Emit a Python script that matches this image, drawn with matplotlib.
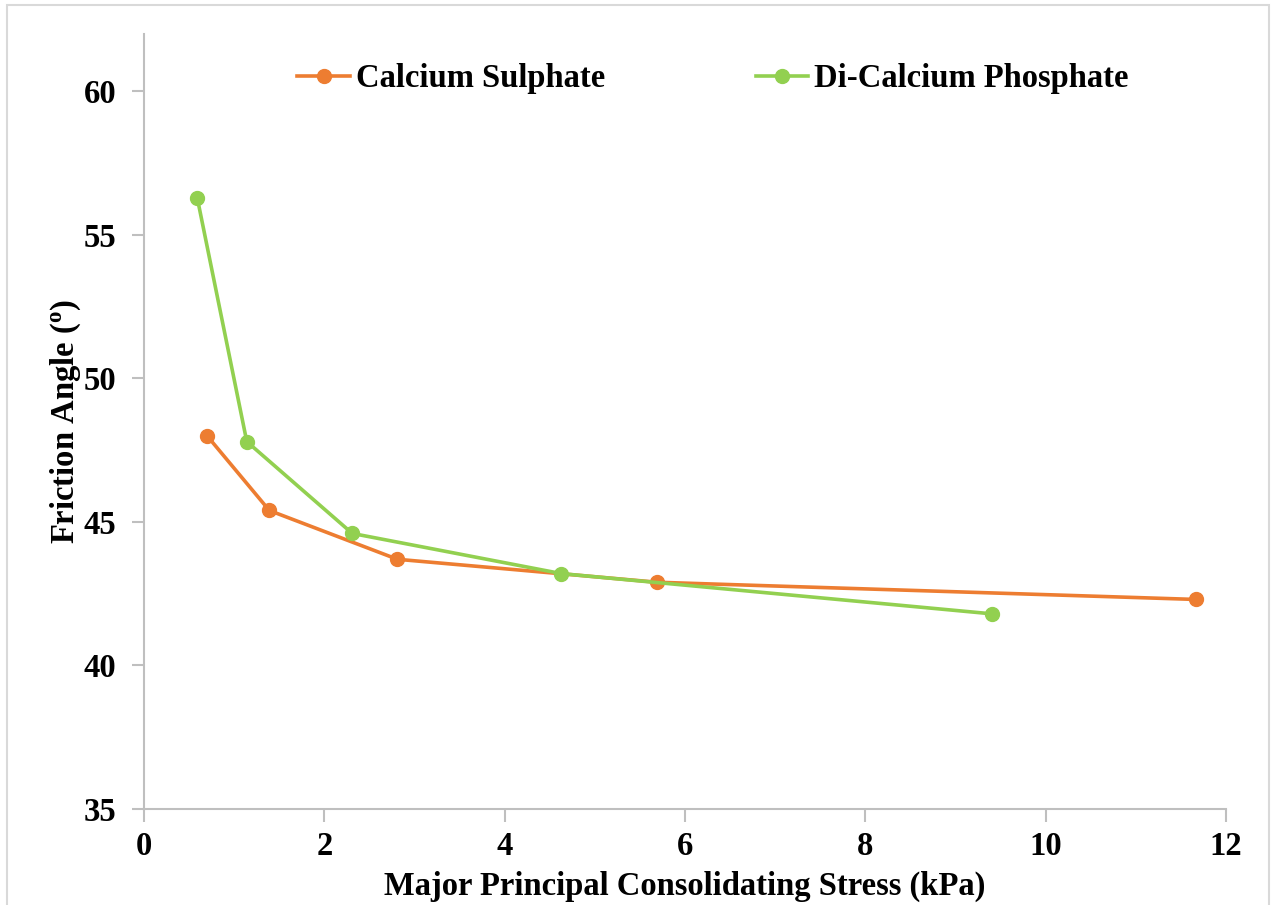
import matplotlib
matplotlib.use("Agg")
import matplotlib.pyplot as plt
from matplotlib.patches import Rectangle

plt.rcParams['font.family'] = ['Liberation Serif', 'DejaVu Serif']
plt.rcParams['font.weight'] = 'bold'
plt.rcParams['mathtext.fontset'] = 'custom'
plt.rcParams['mathtext.rm'] = 'Liberation Serif:bold'
plt.rcParams['mathtext.it'] = 'Liberation Serif:bold'
plt.rcParams['mathtext.bf'] = 'Liberation Serif:bold'

# data
cs_stress = [0.70, 1.39, 2.81, 5.69, 11.67]
cs_angle = [48.0, 45.4, 43.7, 42.9, 42.3]
dcp_stress = [0.59, 1.14, 2.31, 4.63, 9.40]
dcp_angle = [56.3, 47.8, 44.6, 43.2, 41.8]

x_ticks = [0, 2, 4, 6, 8, 10, 12]
y_ticks = [35, 40, 45, 50, 55, 60]

orange = '#ED7D31'
green = '#92D050'
grid_grey = '#BFBFBF'
fs = 23.5

fig = plt.figure(figsize=(12.71, 9.05), dpi=100)
fig.patches.append(Rectangle((7 / 1271, -0.01), 1262 / 1271, 0.01 + (905 - 5) / 905,
                             transform=fig.transFigure, fill=False,
                             edgecolor='#D9D9D9', linewidth=1.5))
ax = fig.add_axes([144 / 1271, (905 - 809) / 905, (1226 - 144) / 1271, (809 - 34) / 905])

ax.plot(cs_stress, cs_angle, color=orange, lw=2.6, marker='o', ms=10, label='Calcium Sulphate')
ax.plot(dcp_stress, dcp_angle, color=green, lw=2.6, marker='o', ms=10, label='Di-Calcium Phosphate')

ax.set_xlim(0, 12)
ax.set_ylim(35, 62)
ax.set_xticks(x_ticks)
ax.set_yticks(y_ticks)

for s in ['top', 'right']:
    ax.spines[s].set_visible(False)
for s in ['left', 'bottom']:
    ax.spines[s].set_color(grid_grey)
    ax.spines[s].set_linewidth(1.5)
ax.tick_params(axis='both', direction='out', length=9, width=1.5, color=grid_grey,
               labelsize=fs)
ax.tick_params(axis='y', pad=11)
ax.tick_params(axis='x', pad=7)
for lbl in ax.get_xticklabels() + ax.get_yticklabels():
    lbl.set_fontweight('bold')

ax.set_xlabel('Major Principal Consolidating Stress (kPa)', fontsize=fs, fontweight='bold', labelpad=6)
ax.set_ylabel(r'Friction Angle ($^{o}$)', fontsize=fs, fontweight='bold', labelpad=0)

leg = ax.legend(loc='upper center', bbox_to_anchor=(0.526, 1.0), ncol=2, frameon=False,
                fontsize=fs, handlelength=1.6, columnspacing=4.6, handletextpad=0.2)
for t in leg.get_texts():
    t.set_fontweight('bold')

fig.savefig('out.png', dpi=100)
